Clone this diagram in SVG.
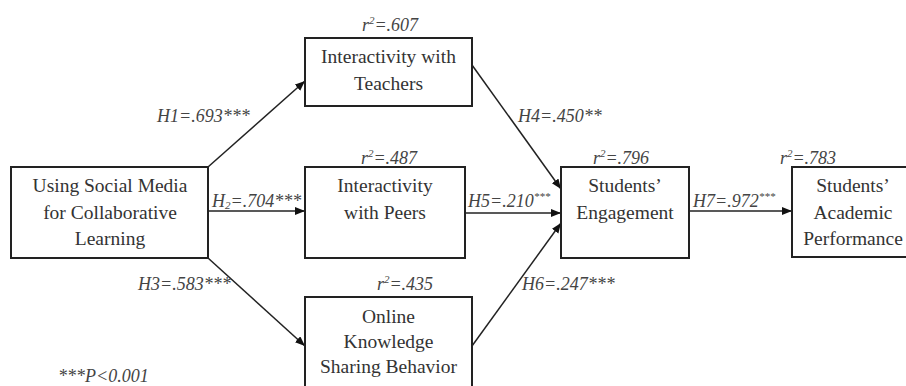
<svg xmlns="http://www.w3.org/2000/svg" width="906" height="386" viewBox="0 0 906 386">
<style>
.box{fill:#fff;stroke:#222;stroke-width:2}
.nt{font-family:"Liberation Serif","Times New Roman",serif;font-size:19.5px;fill:#333;text-anchor:middle}
.lb{font-family:"Liberation Serif","Times New Roman",serif;font-size:18px;font-style:italic;fill:#444}
.r2{text-anchor:middle}
.edge{stroke:#222;stroke-width:1.5;fill:none;marker-end:url(#ah)}
</style>
<defs>
<marker id="ah" markerUnits="userSpaceOnUse" markerWidth="11" markerHeight="9" refX="10" refY="4" orient="auto">
<path d="M0,0 L10,4 L0,8 z" fill="#111"/>
</marker>
</defs>
<rect width="906" height="386" fill="#fff"/>
<g id="connectors">
<line class="edge" x1="208" y1="167" x2="305" y2="81"/>
<line class="edge" x1="208" y1="211" x2="305" y2="211"/>
<line class="edge" x1="208" y1="258" x2="305" y2="346"/>
<line class="edge" x1="472" y1="65" x2="561" y2="189"/>
<line class="edge" x1="465" y1="213" x2="561" y2="213"/>
<line class="edge" x1="472" y1="346" x2="561" y2="223"/>
<line class="edge" x1="689" y1="211" x2="792" y2="211"/>
</g>
<g id="social-media">
<rect class="box" x="11" y="167" width="197" height="91"/>
<text class="nt" x="110" y="192">Using Social Media</text>
<text class="nt" x="110" y="219">for Collaborative</text>
<text class="nt" x="110" y="245">Learning</text>
</g>
<g id="teachers">
<rect class="box" x="305" y="38" width="167" height="68"/>
<text class="nt" x="388.5" y="63">Interactivity with</text>
<text class="nt" x="388.5" y="90">Teachers</text>
</g>
<g id="peers">
<rect class="box" x="305" y="167" width="160" height="91"/>
<text class="nt" x="385" y="192">Interactivity</text>
<text class="nt" x="385" y="219">with Peers</text>
</g>
<g id="knowledge">
<rect class="box" x="305" y="297" width="167" height="100"/>
<text class="nt" x="388.5" y="323">Online</text>
<text class="nt" x="388.5" y="348">Knowledge</text>
<text class="nt" x="388.5" y="373">Sharing Behavior</text>
</g>
<g id="engagement">
<rect class="box" x="561" y="167" width="128" height="91"/>
<text class="nt" x="625" y="192">Students&#8217;</text>
<text class="nt" x="625" y="219">Engagement</text>
</g>
<g id="performance">
<rect class="box" x="792" y="167" width="125" height="90"/>
<text class="nt" x="853" y="192">Students&#8217;</text>
<text class="nt" x="853" y="219">Academic</text>
<text class="nt" x="853" y="245">Performance</text>
</g>
<g id="labels">
<text class="lb r2" x="390" y="31">r<tspan font-size="11" dy="-7">2</tspan><tspan dy="7">=.607</tspan></text>
<text class="lb r2" x="389" y="164">r<tspan font-size="11" dy="-7">2</tspan><tspan dy="7">=.487</tspan></text>
<text class="lb r2" x="405" y="290">r<tspan font-size="11" dy="-7">2</tspan><tspan dy="7">=.435</tspan></text>
<text class="lb r2" x="621" y="164">r<tspan font-size="11" dy="-7">2</tspan><tspan dy="7">=.796</tspan></text>
<text class="lb r2" x="808" y="164">r<tspan font-size="11" dy="-7">2</tspan><tspan dy="7">=.783</tspan></text>
<text class="lb" x="157" y="122">H1=.693***</text>
<text class="lb" x="212" y="207">H<tspan font-size="11" dy="2">2</tspan><tspan dy="-2">=.704***</tspan></text>
<text class="lb" x="138" y="290">H3=.583***</text>
<text class="lb" x="518" y="122">H4=.450**</text>
<text class="lb" x="468" y="207">H5=.210<tspan font-size="11" dy="-7">***</tspan></text>
<text class="lb" x="522" y="290">H6=.247***</text>
<text class="lb" x="693" y="207">H7=.972<tspan font-size="11" dy="-7">***</tspan></text>
<text class="lb" x="58" y="382">***P&lt;0.001</text>
</g>
</svg>
